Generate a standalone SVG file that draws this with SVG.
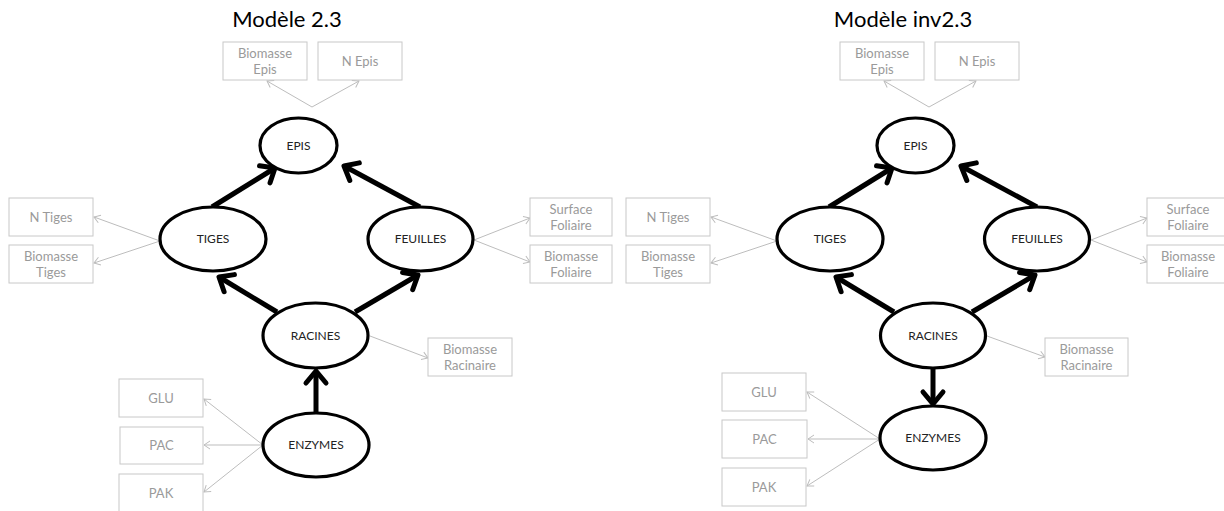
<svg xmlns="http://www.w3.org/2000/svg" width="1224" height="511" viewBox="0 0 1224 511">
<style>
.title{font-family:Lato,"Liberation Sans",sans-serif;font-size:22px;fill:#000;text-anchor:middle}
.box{fill:#fff;stroke:#c8c8c8;stroke-width:1}
.bt{font-family:Lato,"Liberation Sans",sans-serif;font-size:13px;fill:#9a9a9a;text-anchor:middle}
.ell{fill:#fff;stroke:#000;stroke-width:3.2}
.et{font-family:Lato,"Liberation Sans",sans-serif;font-size:12px;fill:#222;text-anchor:middle}
.thin{stroke:#bdbdbd;stroke-width:1;fill:none;marker-end:url(#ah)}
.thick{stroke:#000;stroke-width:5;fill:none;marker-end:url(#AH)}
</style>
<defs>
<marker id="ah" markerUnits="userSpaceOnUse" markerWidth="12" markerHeight="12" refX="0" refY="0" viewBox="-8 -6 10 12" orient="auto">
<path d="M-6,-4 L0,0 L-6,4" fill="none" stroke="#bdbdbd" stroke-width="1"/>
</marker>
<marker id="AH" markerUnits="userSpaceOnUse" markerWidth="32" markerHeight="32" refX="0" refY="0" viewBox="-16 -16 32 32" orient="auto">
<path d="M-12,-10 L0,0 L-12,10" fill="none" stroke="#000" stroke-width="5" stroke-linecap="round" stroke-linejoin="round"/>
</marker>
</defs>

<text class="title" x="287" y="27">Modèle 2.3</text>
<text class="title" x="903" y="27">Modèle inv2.3</text>

<g id="connectors">
<line class="thin" x1="312" y1="107" x2="267" y2="81"/>
<line class="thin" x1="312" y1="107" x2="359" y2="81"/>
<line class="thin" x1="160" y1="241" x2="94" y2="217"/>
<line class="thin" x1="160" y1="241" x2="94" y2="263"/>
<line class="thin" x1="474" y1="240" x2="530" y2="218"/>
<line class="thin" x1="474" y1="240" x2="530" y2="262"/>
<line class="thin" x1="370" y1="336" x2="428" y2="358"/>
<line class="thin" x1="263" y1="445" x2="204" y2="399"/>
<line class="thin" x1="263" y1="445" x2="204" y2="445"/>
<line class="thin" x1="263" y1="445" x2="204" y2="492"/>
<line class="thick" x1="212" y1="207" x2="275" y2="168"/>
<line class="thick" x1="420" y1="207" x2="344" y2="166"/>
<line class="thick" x1="277" y1="312" x2="219" y2="277"/>
<line class="thick" x1="355" y1="312" x2="418" y2="275"/>
<line class="thick" x1="316" y1="413" x2="316" y2="371"/>
<line class="thin" x1="929" y1="107" x2="884" y2="81"/>
<line class="thin" x1="929" y1="107" x2="976" y2="81"/>
<line class="thin" x1="777" y1="241" x2="711" y2="217"/>
<line class="thin" x1="777" y1="241" x2="711" y2="263"/>
<line class="thin" x1="1091" y1="240" x2="1147" y2="218"/>
<line class="thin" x1="1091" y1="240" x2="1147" y2="262"/>
<line class="thin" x1="987" y1="336" x2="1045" y2="357"/>
<line class="thin" x1="880" y1="439" x2="807" y2="392"/>
<line class="thin" x1="880" y1="439" x2="808" y2="439"/>
<line class="thin" x1="880" y1="439" x2="807" y2="486"/>
<line class="thick" x1="829" y1="207" x2="892" y2="168"/>
<line class="thick" x1="1037" y1="207" x2="961" y2="166"/>
<line class="thick" x1="894" y1="312" x2="836" y2="277"/>
<line class="thick" x1="972" y1="312" x2="1035" y2="275"/>
<line class="thick" x1="933" y1="368" x2="933" y2="404"/>
</g>

<g id="L-epis"><ellipse class="ell" cx="298.5" cy="145.5" rx="38.5" ry="27.5"/><text class="et" x="298.5" y="149.5">EPIS</text></g>
<g id="L-tiges"><ellipse class="ell" cx="213" cy="239" rx="53" ry="32"/><text class="et" x="213" y="243">TIGES</text></g>
<g id="L-feuilles"><ellipse class="ell" cx="420.5" cy="239" rx="52.5" ry="32"/><text class="et" x="420.5" y="243">FEUILLES</text></g>
<g id="L-racines"><ellipse class="ell" cx="315.5" cy="335.5" rx="52.5" ry="32.5"/><text class="et" x="315.5" y="339.5">RACINES</text></g>
<g id="L-enzymes"><ellipse class="ell" cx="316" cy="445" rx="53" ry="32"/><text class="et" x="316" y="449">ENZYMES</text></g>

<g id="L-biomasse-epis"><rect class="box" x="223" y="42" width="84" height="38"/><text class="bt" x="265" y="58">Biomasse</text><text class="bt" x="265" y="74">Epis</text></g>
<g id="L-n-epis"><rect class="box" x="318" y="42" width="84" height="38"/><text class="bt" x="360" y="66">N Epis</text></g>
<g id="L-n-tiges"><rect class="box" x="9" y="198" width="84" height="38"/><text class="bt" x="51" y="222">N Tiges</text></g>
<g id="L-biomasse-tiges"><rect class="box" x="9" y="245" width="84" height="38"/><text class="bt" x="51" y="261">Biomasse</text><text class="bt" x="51" y="277">Tiges</text></g>
<g id="L-surface-foliaire"><rect class="box" x="530" y="198" width="82" height="38"/><text class="bt" x="571" y="214">Surface</text><text class="bt" x="571" y="230">Foliaire</text></g>
<g id="L-biomasse-foliaire"><rect class="box" x="530" y="245" width="82" height="38"/><text class="bt" x="571" y="261">Biomasse</text><text class="bt" x="571" y="277">Foliaire</text></g>
<g id="L-biomasse-racinaire"><rect class="box" x="428" y="338" width="84" height="38"/><text class="bt" x="470" y="354">Biomasse</text><text class="bt" x="470" y="370">Racinaire</text></g>
<g id="L-glu"><rect class="box" x="119" y="379" width="84" height="38"/><text class="bt" x="161" y="403">GLU</text></g>
<g id="L-pac"><rect class="box" x="120" y="427" width="83" height="37"/><text class="bt" x="161.5" y="450">PAC</text></g>
<g id="L-pak"><rect class="box" x="119" y="474" width="84" height="38"/><text class="bt" x="161" y="498">PAK</text></g>

<g id="R-epis"><ellipse class="ell" cx="915.5" cy="145.5" rx="38.5" ry="27.5"/><text class="et" x="915.5" y="149.5">EPIS</text></g>
<g id="R-tiges"><ellipse class="ell" cx="830" cy="239" rx="53" ry="32"/><text class="et" x="830" y="243">TIGES</text></g>
<g id="R-feuilles"><ellipse class="ell" cx="1037" cy="239" rx="52.5" ry="32"/><text class="et" x="1037" y="243">FEUILLES</text></g>
<g id="R-racines"><ellipse class="ell" cx="933" cy="335.5" rx="52.5" ry="32.5"/><text class="et" x="933" y="339.5">RACINES</text></g>
<g id="R-enzymes"><ellipse class="ell" cx="933" cy="438" rx="53" ry="32"/><text class="et" x="933" y="442">ENZYMES</text></g>

<g id="R-biomasse-epis"><rect class="box" x="840" y="42" width="84" height="38"/><text class="bt" x="882" y="58">Biomasse</text><text class="bt" x="882" y="74">Epis</text></g>
<g id="R-n-epis"><rect class="box" x="935" y="42" width="84" height="38"/><text class="bt" x="977" y="66">N Epis</text></g>
<g id="R-n-tiges"><rect class="box" x="626" y="198" width="84" height="38"/><text class="bt" x="668" y="222">N Tiges</text></g>
<g id="R-biomasse-tiges"><rect class="box" x="626" y="245" width="84" height="38"/><text class="bt" x="668" y="261">Biomasse</text><text class="bt" x="668" y="277">Tiges</text></g>
<g id="R-surface-foliaire"><rect class="box" x="1147" y="198" width="82" height="38"/><text class="bt" x="1188" y="214">Surface</text><text class="bt" x="1188" y="230">Foliaire</text></g>
<g id="R-biomasse-foliaire"><rect class="box" x="1147" y="245" width="82" height="38"/><text class="bt" x="1188" y="261">Biomasse</text><text class="bt" x="1188" y="277">Foliaire</text></g>
<g id="R-biomasse-racinaire"><rect class="box" x="1045" y="338" width="83" height="38"/><text class="bt" x="1086.5" y="354">Biomasse</text><text class="bt" x="1086.5" y="370">Racinaire</text></g>
<g id="R-glu"><rect class="box" x="722" y="373" width="84" height="38"/><text class="bt" x="764" y="397">GLU</text></g>
<g id="R-pac"><rect class="box" x="722" y="420" width="85" height="38"/><text class="bt" x="764.5" y="444">PAC</text></g>
<g id="R-pak"><rect class="box" x="722" y="468" width="84" height="38"/><text class="bt" x="764" y="492">PAK</text></g>
</svg>
